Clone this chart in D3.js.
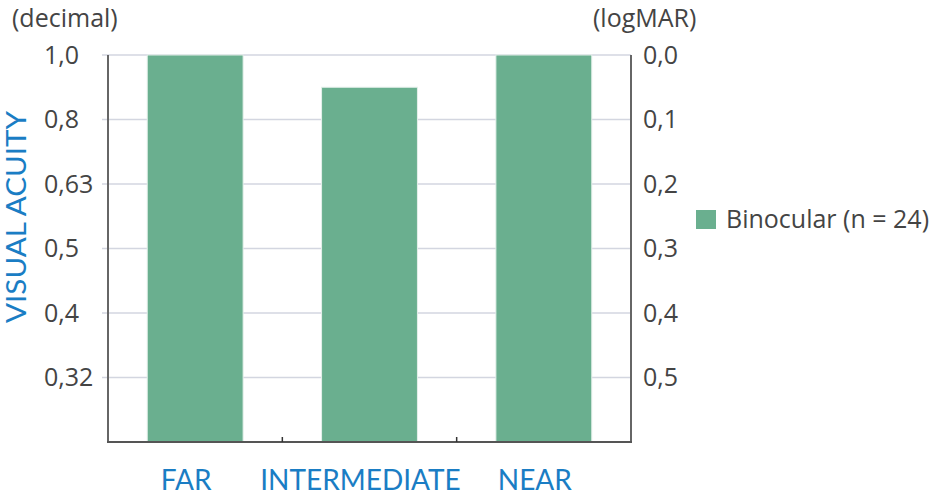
<!DOCTYPE html>
<html><head><meta charset="utf-8">
<script src="https://cdn.jsdelivr.net/npm/d3@7/dist/d3.min.js"></script>
<style>body{margin:0;background:#fff}svg{display:block}</style>
</head><body>
<svg id="c" width="939" height="502"></svg>
<script>
const categories = ["FAR", "INTERMEDIATE", "NEAR"];
const logmarValues = [0.0, 0.05, 0.0];
const logmarTicks = [0.0, 0.1, 0.2, 0.3, 0.4, 0.5];
const decimalLabels = ["1,0", "0,8", "0,63", "0,5", "0,4", "0,32"];
const logmarLabels = ["0,0", "0,1", "0,2", "0,3", "0,4", "0,5"];
const seriesName = "Binocular (n = 24)";

const svg = d3.select("#c");
const pLeft = 108, pRight = 631, pTop = 55, pBottom = 442;
const font = "'Open Sans', sans-serif";
const barColor = "#6aaf8f";

const y = d3.scaleLinear().domain([0, 0.6]).range([pTop, pBottom]);
const x = d3.scaleBand().domain(categories).range([pLeft, pRight]).paddingInner(0.45).paddingOuter(0.225);

// gridlines
svg.append("g").selectAll("line").data(logmarTicks).join("line")
  .attr("x1", pLeft - 6).attr("x2", pRight)
  .attr("y1", d => y(d)).attr("y2", d => y(d))
  .attr("stroke", "#d3d6e0").attr("stroke-width", 1.3);

// bars
svg.append("g").selectAll("rect").data(categories).join("rect")
  .attr("x", d => x(d)).attr("width", x.bandwidth())
  .attr("y", (d, i) => y(logmarValues[i]))
  .attr("height", (d, i) => pBottom - y(logmarValues[i]))
  .attr("fill", barColor)
  .attr("stroke", "#e4f0ea").attr("stroke-width", 1);

// left axis (labels left-aligned)
const yl = d3.axisLeft(y).tickValues(logmarTicks).tickSize(0).tickPadding(0)
  .tickFormat((d, i) => decimalLabels[i]);
const gl = svg.append("g").attr("transform", `translate(${pLeft},0)`).call(yl);
gl.select(".domain").remove();
gl.selectAll("text").attr("font-family", font).attr("font-size", 25).attr("fill", "#444")
  .attr("text-anchor", "start").attr("x", 44 - pLeft);

// right axis
const yr = d3.axisRight(y).tickValues(logmarTicks).tickSize(0).tickPadding(12)
  .tickFormat((d, i) => logmarLabels[i]);
const gr = svg.append("g").attr("transform", `translate(${pRight},0)`).call(yr);
gr.select(".domain").remove();
gr.selectAll("text").attr("font-family", font).attr("font-size", 25).attr("fill", "#444");

// axis lines
svg.append("line").attr("x1", pLeft).attr("x2", pLeft).attr("y1", pTop).attr("y2", pBottom)
  .attr("stroke", "#666").attr("stroke-width", 2);
svg.append("line").attr("x1", pRight).attr("x2", pRight).attr("y1", pTop).attr("y2", pBottom)
  .attr("stroke", "#666").attr("stroke-width", 2);
svg.append("line").attr("x1", pLeft - 1).attr("x2", pRight + 1).attr("y1", pBottom).attr("y2", pBottom)
  .attr("stroke", "#555").attr("stroke-width", 2);

// category separator ticks
const seps = categories.slice(1).map(c => x(c) - x.step() * x.paddingInner() / 2);
svg.append("g").selectAll("line").data(seps).join("line")
  .attr("x1", d => d).attr("x2", d => d).attr("y1", pBottom - 5).attr("y2", pBottom)
  .attr("stroke", "#333").attr("stroke-width", 1.5);

// bottom axis labels
const xb = d3.axisBottom(x).tickSize(0).tickPadding(0);
const gb = svg.append("g").attr("transform", `translate(0,${pBottom})`).call(xb);
gb.select(".domain").remove();
gb.selectAll("text").attr("font-family", "Lato, sans-serif").attr("font-size", 28)
  .attr("fill", "#1a7dc4").attr("y", 48).attr("dy", 0).attr("dx", -9);

// titles
svg.append("text").attr("x", 12).attr("y", 27).text("(decimal)")
  .attr("font-family", font).attr("font-size", 25).attr("fill", "#444");
svg.append("text").attr("x", 593).attr("y", 27).text("(logMAR)")
  .attr("font-family", font).attr("font-size", 25).attr("fill", "#444");
svg.append("text").attr("transform", "translate(26,217) rotate(-90)")
  .attr("text-anchor", "middle").text("VISUAL ACUITY")
  .attr("font-family", "Lato, sans-serif").attr("font-size", 27).attr("fill", "#1a7dc4")
  .attr("textLength", 212).attr("lengthAdjust", "spacingAndGlyphs");

// legend
const lg = svg.append("g").attr("transform", "translate(696,210)");
lg.append("rect").attr("width", 20).attr("height", 19).attr("fill", barColor);
lg.append("text").attr("x", 30).attr("y", 18).text(seriesName)
  .attr("font-family", font).attr("font-size", 25).attr("fill", "#444");
</script>
</body></html>
